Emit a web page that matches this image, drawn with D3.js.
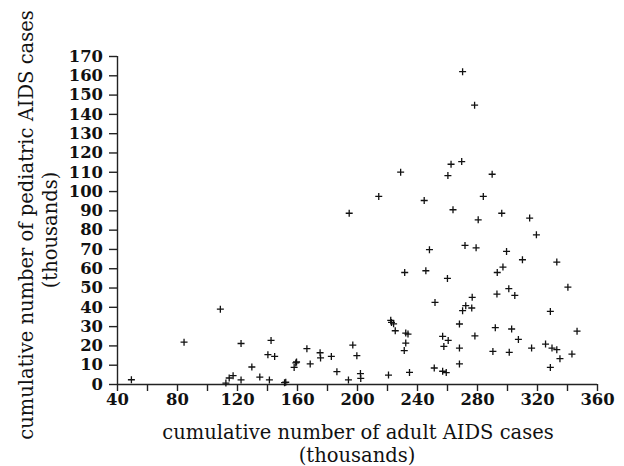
<!DOCTYPE html>
<html>
<head>
<meta charset="utf-8">
<script src="https://cdn.jsdelivr.net/npm/d3@7"></script>
<style>
  html, body { margin: 0; padding: 0; background: #fff; }
  svg { display: block; }
  text { font-family: "DejaVu Serif", "Liberation Serif", serif; fill: #111; }
</style>
</head>
<body>
<svg id="chart" width="624" height="466"></svg>
<script>
// Cumulative adult AIDS cases (thousands)
const adultCases = [
  49.6, 84.7, 108.9, 112.6, 114.8, 117.4, 122.7, 122.7, 129.9, 135.2,
  140.6, 141.6, 142.7, 145.1, 151.7, 152.5, 158.1, 159.2, 159.7, 166.6,
  168.8, 175.4, 175.7, 182.9, 186.6, 194.3, 194.8, 197.2, 199.9, 202.3,
  202.5, 214.5, 221.0, 222.5, 223.0, 224.4, 225.5, 229.1, 231.8, 231.5,
  232.5, 232.5, 234.0, 235.0, 244.8, 245.9, 248.3, 251.5, 252.0, 257.1,
  257.9, 257.1, 259.5, 260.3, 260.6, 260.8, 262.7, 264.0, 268.3, 268.3,
  268.3, 269.8, 270.4, 270.4, 272.0, 272.5, 276.8, 276.5, 278.4, 278.6,
  279.4, 280.8, 284.2, 290.1, 290.6, 292.2, 293.3, 293.5, 296.5, 297.3,
  299.7, 301.2, 301.5, 303.1, 305.2, 307.6, 310.3, 315.1, 316.4, 319.6,
  325.7, 328.9, 328.9, 330.0, 333.2, 333.2, 335.3, 340.6, 343.3, 346.7
];
// Cumulative pediatric AIDS cases (thousands)
const pediatricCases = [
  2.2, 21.7, 38.8, 0.5, 3.1, 4.3, 21.0, 2.1, 8.8, 3.6,
  15.2, 2.1, 22.6, 14.3, 0.7, 0.9, 8.6, 10.9, 11.4, 18.3,
  10.4, 16.2, 13.5, 14.3, 6.4, 2.1, 88.5, 20.2, 14.7, 5.4,
  2.9, 97.2, 4.6, 33.0, 31.9, 31.2, 27.6, 109.8, 57.8, 17.3,
  21.2, 26.4, 25.9, 6.0, 95.1, 58.7, 69.6, 8.3, 42.3, 24.7,
  19.5, 6.6, 5.9, 54.7, 108.0, 22.6, 113.9, 90.3, 31.1, 18.6,
  10.4, 115.3, 161.9, 38.0, 71.8, 40.6, 44.9, 39.4, 144.5, 24.9,
  70.6, 85.1, 97.2, 108.7, 16.9, 29.2, 46.6, 57.8, 88.5, 60.6,
  68.7, 49.4, 16.4, 28.5, 45.9, 23.1, 64.4, 86.0, 18.6, 77.3,
  20.7, 37.6, 8.6, 18.6, 63.2, 17.8, 13.1, 50.2, 15.5, 27.4
];
const xTickValues = [40, 60, 80, 100, 120, 140, 160, 180, 200, 220, 240, 260, 280, 300, 320, 340, 360];
const xTickLabels = [40, 80, 120, 160, 200, 240, 280, 320, 360];
const yTickValues = [0, 10, 20, 30, 40, 50, 60, 70, 80, 90, 100, 110, 120, 130, 140, 150, 160, 170];
const xTitle = ["cumulative number of adult AIDS cases", "(thousands)"];
const yTitle = ["cumulative number of pediatric AIDS cases", "(thousands)"];

const points = adultCases.map((a, i) => ({ x: a, y: pediatricCases[i] }));

const svg = d3.select("#chart");
const mLeft = 117, mRight = 597, mTop = 56, mBottom = 384;
const tickFont = '"DejaVu Serif", serif';

const x = d3.scaleLinear().domain([40, 360]).range([mLeft, mRight]);
const y = d3.scaleLinear().domain([0, 170]).range([mBottom, mTop]);

// X axis
const xAxis = d3.axisBottom(x)
  .tickValues(xTickValues)
  .tickSize(7)
  .tickPadding(2)
  .tickFormat(d => xTickLabels.includes(d) ? d : "");
const gx = svg.append("g").attr("transform", `translate(0,${mBottom})`).call(xAxis);
gx.select(".domain").attr("d", `M${mLeft},0.5H${mRight}`).attr("stroke", "#222").attr("stroke-width", 1.6);
gx.selectAll(".tick line").attr("stroke", "#222").attr("stroke-width", 1.4);
gx.selectAll(".tick text")
  .attr("font-family", tickFont)
  .attr("font-size", 16.4).attr("font-weight", "bold").attr("fill", "#111");

// Y axis
const yAxis = d3.axisLeft(y)
  .tickValues(yTickValues)
  .tickSize(8)
  .tickPadding(6);
const gy = svg.append("g").attr("transform", `translate(${mLeft},0)`).call(yAxis);
gy.select(".domain").attr("d", `M0.5,${mTop}V${mBottom}`).attr("stroke", "#222").attr("stroke-width", 1.4);
gy.selectAll(".tick line").attr("stroke", "#222").attr("stroke-width", 1.4);
gy.selectAll(".tick text")
  .attr("font-family", tickFont)
  .attr("font-size", 16.4).attr("font-weight", "bold").attr("fill", "#111");

// Points as "+" markers
svg.append("g").selectAll("path")
  .data(points)
  .enter().append("path")
  .attr("transform", d => `translate(${x(d.x)},${y(d.y)})`)
  .attr("d", "M-3.5,0H3.5M0,-3.5V3.5")
  .attr("stroke", "#111")
  .attr("stroke-width", 1.3)
  .attr("fill", "none");

// Axis titles
svg.append("text").attr("x", 358).attr("y", 439).attr("text-anchor", "middle")
  .attr("font-size", 19.5).text(xTitle[0]);
svg.append("text").attr("x", 357).attr("y", 462).attr("text-anchor", "middle")
  .attr("font-size", 19.5).text(xTitle[1]);

svg.append("text").attr("transform", "translate(33,225) rotate(-90)").attr("text-anchor", "middle")
  .attr("font-size", 19.5).text(yTitle[0]);
svg.append("text").attr("transform", "translate(57,230) rotate(-90)").attr("text-anchor", "middle")
  .attr("font-size", 19.5).text(yTitle[1]);
</script>
</body>
</html>
